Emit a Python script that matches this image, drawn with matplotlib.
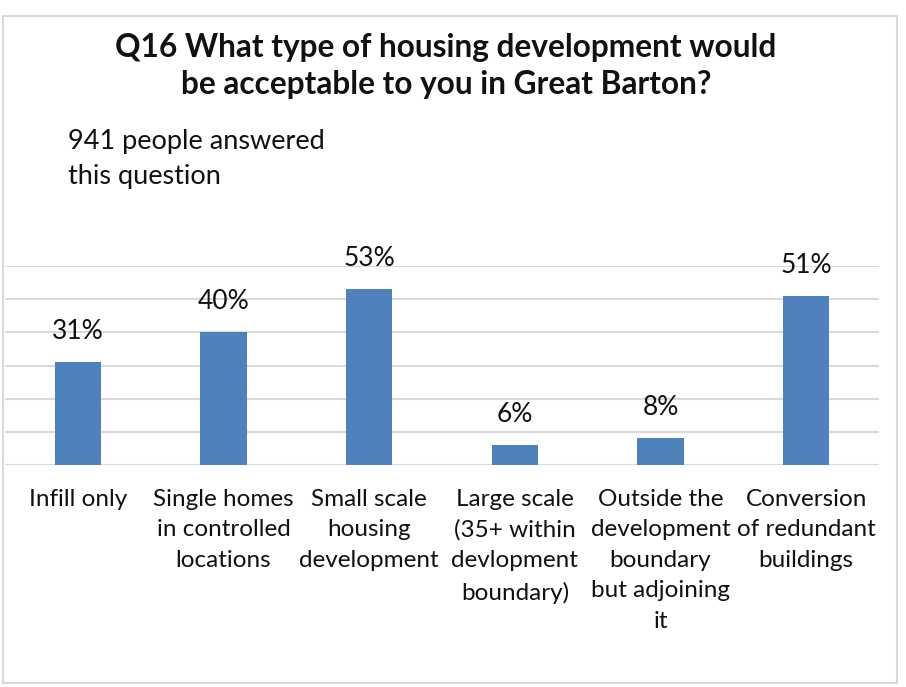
import numpy as np
import matplotlib
matplotlib.use("Agg")
import matplotlib.pyplot as plt
from matplotlib.patches import Rectangle

# Chart data
categories = [
    "Infill only",
    "Single homes\nin controlled\nlocations",
    "Small scale\nhousing\ndevelopment",
    "Large scale\n(35+ within\ndevlopment\nboundary)",
    "Outside the\ndevelopment\nboundary\nbut adjoining\nit",
    "Conversion\nof redundant\nbuildings",
]
values = [31, 40, 53, 6, 8, 51]
labels = ["31%", "40%", "53%", "6%", "8%", "51%"]

title = "Q16 What type of housing development would\nbe acceptable to you in Great Barton?"
note = "941 people answered\nthis question"

plt.rcParams["font.family"] = ["Lato", "DejaVu Sans"]

W, H = 906, 687
fig = plt.figure(figsize=(W / 100, H / 100), dpi=100)

# outer chart border
fig.patches.append(Rectangle((3 / W, 1 - 683 / H), 894 / W, 667 / H,
                             transform=fig.transFigure, fill=False,
                             edgecolor="#D9D9D9", linewidth=1.5))

ax = fig.add_axes([5 / W, 1 - 465 / H, 874 / W, 199 / H])
x = np.arange(len(categories))
ax.bar(x, values, width=0.316, color="#4F81BD", zorder=3)
for xi, v, lab in zip(x, values, labels):
    ax.annotate(lab, (xi, v), xytext=(0, 13), textcoords="offset points",
                ha="center", va="bottom", fontsize=19, color="#111111")

ax.set_xlim(-0.5, len(categories) - 0.5)
ax.set_ylim(0, 60)
ax.set_yticks(np.arange(0, 61, 10))
ax.yaxis.grid(True, color="#D9D9D9", linewidth=1.5, zorder=0)
ax.tick_params(axis="y", left=False, labelleft=False)
ax.tick_params(axis="x", length=0, pad=17)
ax.set_xticks(x)
ax.set_xticklabels(categories, fontsize=17.5, color="#111111", linespacing=1.56)
for s in ax.spines.values():
    s.set_visible(False)

fig.text(446 / W, 1 - 66 / H, title, ha="center", va="center",
         fontsize=22.8, fontweight="bold", linespacing=1.35, color="#111111")
fig.text(68 / W, 1 - 159 / H, note, ha="left", va="center",
         fontsize=19.5, linespacing=1.5, color="#111111")

fig.savefig("out.png", dpi=100)
